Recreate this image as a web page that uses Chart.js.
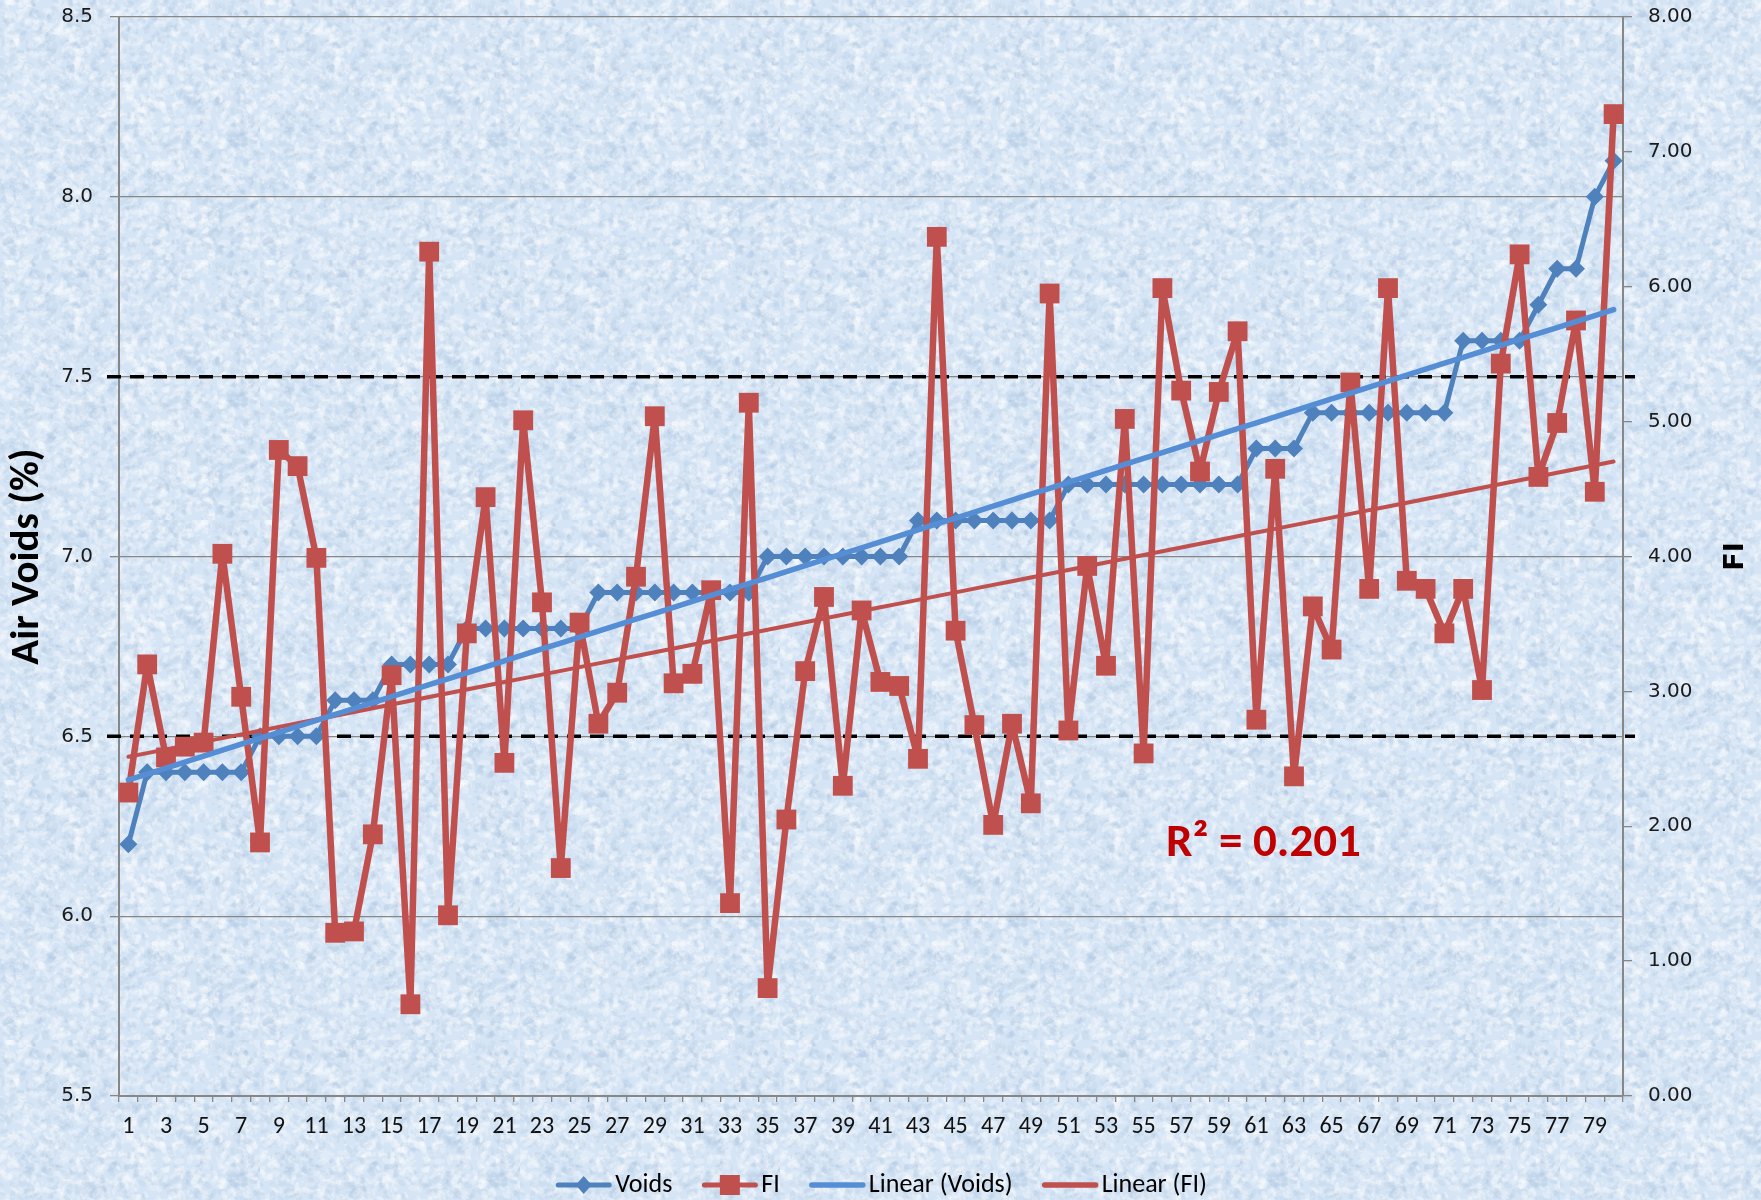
<!DOCTYPE html>
<html lang="en">
<head>
<meta charset="UTF-8">
<title>Air Voids and FI</title>
<script src="https://cdn.jsdelivr.net/npm/chart.js"></script>
<style>
    html, body { margin: 0; padding: 0; background: #d8e7f6; }
    #wrap { width: 1761px; height: 1200px; }
</style>
</head>
<body>
<div id="wrap"><canvas id="chart" width="1761" height="1200"></canvas></div>
<script>
    // Sample numbers along the x axis
    const samples = ['1','2','3','4','5','6','7','8','9','10','11','12','13','14','15','16','17','18','19','20',
        '21','22','23','24','25','26','27','28','29','30','31','32','33','34','35','36','37','38','39','40',
        '41','42','43','44','45','46','47','48','49','50','51','52','53','54','55','56','57','58','59','60',
        '61','62','63','64','65','66','67','68','69','70','71','72','73','74','75','76','77','78','79','80'];

    // Air voids (%) - left axis
    const voids = [6.2, 6.4, 6.4, 6.4, 6.4, 6.4, 6.4, 6.5, 6.5, 6.5,
        6.5, 6.6, 6.6, 6.6, 6.7, 6.7, 6.7, 6.7, 6.8, 6.8,
        6.8, 6.8, 6.8, 6.8, 6.8, 6.9, 6.9, 6.9, 6.9, 6.9,
        6.9, 6.9, 6.9, 6.9, 7.0, 7.0, 7.0, 7.0, 7.0, 7.0,
        7.0, 7.0, 7.1, 7.1, 7.1, 7.1, 7.1, 7.1, 7.1, 7.1,
        7.2, 7.2, 7.2, 7.2, 7.2, 7.2, 7.2, 7.2, 7.2, 7.2,
        7.3, 7.3, 7.3, 7.4, 7.4, 7.4, 7.4, 7.4, 7.4, 7.4,
        7.4, 7.6, 7.6, 7.6, 7.6, 7.7, 7.8, 7.8, 8.0, 8.1];

    // Flexibility index - right axis
    const fi = [2.25, 3.20, 2.51, 2.59, 2.62, 4.02, 2.96, 1.88, 4.79, 4.67,
        3.99, 1.21, 1.22, 1.94, 3.12, 0.68, 6.26, 1.34, 3.43, 4.44,
        2.47, 5.01, 3.66, 1.69, 3.51, 2.76, 2.99, 3.85, 5.04, 3.06,
        3.13, 3.75, 1.43, 5.14, 0.80, 2.05, 3.15, 3.70, 2.30, 3.60,
        3.07, 3.04, 2.50, 6.37, 3.45, 2.75, 2.01, 2.76, 2.17, 5.95,
        2.71, 3.93, 3.19, 5.02, 2.54, 5.99, 5.23, 4.63, 5.22, 5.67,
        2.79, 4.65, 2.37, 3.63, 3.31, 5.29, 3.76, 5.99, 3.82, 3.76,
        3.43, 3.76, 3.01, 5.43, 6.24, 4.59, 4.99, 5.75, 4.48, 7.28];

    const voidsAxis = [5.5, 8.5, 0.5];   // min, max, step
    const fiAxis = [0, 8, 1];
    const limitLines = [6.5, 7.5];       // air void spec band
    const r2Text = 'R² = 0.201';

    const BLUE = '#4F81BD';
    const RED = '#C0504D';
    const TREND_BLUE = '#558ED5';
    const GRID = '#878787';
    const CALIBRI = 'Carlito, Calibri, Lato, sans-serif';

    // least squares line over sample index
    function linearFit(values) {
        const n = values.length;
        let sx = 0, sy = 0, sxx = 0, sxy = 0;
        values.forEach((y, i) => {
            const x = i + 1;
            sx += x; sy += y; sxx += x * x; sxy += x * y;
        });
        const slope = (n * sxy - sx * sy) / (n * sxx - sx * sx);
        const icpt = (sy - slope * sx) / n;
        return values.map((_, i) => icpt + slope * (i + 1));
    }

    // speckled light blue backdrop
    function makeTexture() {
        const c = document.createElement('canvas');
        c.width = 260; c.height = 260;
        const g = c.getContext('2d');
        g.fillStyle = '#d5e5f5';
        g.fillRect(0, 0, 260, 260);
        let seed = 12345;
        const rnd = () => (seed = (seed * 16807) % 2147483647) / 2147483647;
        for (let i = 0; i < 3200; i++) {
            const x = rnd() * 260, y = rnd() * 260, r = 0.8 + rnd() * 2.6;
            g.fillStyle = rnd() < 0.6 ? 'rgba(255,255,255,0.26)' : 'rgba(155,184,218,0.15)';
            g.beginPath();
            g.ellipse(x, y, r * 1.9, r, rnd() * Math.PI, 0, Math.PI * 2);
            g.fill();
        }
        return c;
    }

    const backdrop = {
        id: 'backdrop',
        beforeDraw(chart) {
            const ctx = chart.ctx;
            ctx.save();
            ctx.fillStyle = ctx.createPattern(makeTexture(), 'repeat');
            ctx.fillRect(0, 0, chart.width, chart.height);
            ctx.restore();
        }
    };

    const limitLinesPlugin = {
        id: 'limitLines',
        beforeDatasetsDraw(chart) {
            const {ctx, chartArea, scales} = chart;
            ctx.save();
            ctx.strokeStyle = '#000';
            ctx.lineWidth = 3.5;
            ctx.setLineDash([14, 9]);
            limitLines.forEach(v => {
                const py = scales.y.getPixelForValue(v);
                ctx.beginPath();
                ctx.moveTo(chartArea.left - 12, py);
                ctx.lineTo(chartArea.right + 12, py);
                ctx.stroke();
            });
            ctx.restore();
        }
    };

    function drawMarker(ctx, kind, x, y, color) {
        ctx.fillStyle = color;
        ctx.beginPath();
        if (kind === 'diamond') {
            ctx.moveTo(x, y - 9); ctx.lineTo(x + 8, y); ctx.lineTo(x, y + 9); ctx.lineTo(x - 8, y);
            ctx.closePath();
        } else if (kind === 'square') {
            ctx.rect(x - 10, y - 10, 20, 20);
        }
        ctx.fill();
    }

    const textBits = {
        id: 'textBits',
        afterDraw(chart) {
            const {ctx, chartArea} = chart;
            const midY = (chartArea.top + chartArea.bottom) / 2;
            ctx.save();
            ctx.fillStyle = '#000';
            ctx.textAlign = 'center';
            ctx.textBaseline = 'middle';

            // axis titles
            ctx.save();
            ctx.translate(28, midY);
            ctx.rotate(-Math.PI / 2);
            ctx.font = 'bold 41px ' + CALIBRI;
            ctx.fillText('Air Voids (%)', 0, 0);
            ctx.restore();

            ctx.save();
            ctx.translate(1736, midY);
            ctx.rotate(-Math.PI / 2);
            ctx.font = 'bold 27px "DejaVu Sans"';
            ctx.fillText('FI', 0, 0);
            ctx.restore();

            // R squared note
            ctx.font = 'bold 47px ' + CALIBRI;
            ctx.fillStyle = '#C00000';
            ctx.textAlign = 'left';
            ctx.fillText(r2Text, 1166, 844);

            // legend
            const items = [
                {label: 'Voids', color: BLUE, marker: 'diamond', width: 5},
                {label: 'FI', color: RED, marker: 'square', width: 5},
                {label: 'Linear (Voids)', color: TREND_BLUE, marker: null, width: 5.5},
                {label: 'Linear (FI)', color: RED, marker: null, width: 5.5}
            ];
            ctx.font = '26px ' + CALIBRI;
            const sample = 57, gapText = 3, gapItem = 29;
            let total = 0;
            items.forEach(it => { it.tw = ctx.measureText(it.label).width; total += sample + gapText + it.tw; });
            total += gapItem * (items.length - 1);
            let x = 881 - total / 2;
            const ly = 1185;
            items.forEach(it => {
                ctx.strokeStyle = it.color;
                ctx.lineWidth = it.width;
                ctx.lineCap = 'round';
                ctx.beginPath();
                ctx.moveTo(x + 3, ly);
                ctx.lineTo(x + sample - 3, ly);
                ctx.stroke();
                if (it.marker) drawMarker(ctx, it.marker, x + sample / 2, ly, it.color);
                ctx.fillStyle = '#000';
                ctx.fillText(it.label, x + sample + gapText, ly);
                x += sample + gapText + it.tw + gapItem;
            });
            ctx.restore();
        }
    };

    // keep the plot frame fixed: no extra room reserved for end labels
    function fixWidth(w) {
        return s => { s.width = w; s.paddingTop = 0; s.paddingBottom = 0; };
    }

    const ctx = document.getElementById('chart').getContext('2d');
    new Chart(ctx, {
        type: 'line',
        data: {
            labels: samples,
            datasets: [
                {
                    label: 'Linear (Voids)',
                    data: linearFit(voids),
                    yAxisID: 'y',
                    borderColor: TREND_BLUE,
                    borderWidth: 5.5,
                    borderCapStyle: 'round',
                    pointRadius: 0,
                    order: 0
                },
                {
                    label: 'Linear (FI)',
                    data: linearFit(fi),
                    yAxisID: 'y2',
                    borderColor: RED,
                    borderWidth: 4,
                    borderCapStyle: 'round',
                    pointRadius: 0,
                    order: 1
                },
                {
                    label: 'FI',
                    data: fi,
                    yAxisID: 'y2',
                    borderColor: RED,
                    backgroundColor: RED,
                    borderWidth: 6.5,
                    borderJoinStyle: 'round',
                    pointStyle: 'rect',
                    pointRadius: 14,
                    pointBorderWidth: 0,
                    order: 2
                },
                {
                    label: 'Voids',
                    data: voids,
                    yAxisID: 'y',
                    borderColor: BLUE,
                    backgroundColor: BLUE,
                    borderWidth: 5,
                    borderJoinStyle: 'round',
                    pointStyle: 'rectRot',
                    pointRadius: 9,
                    pointBorderWidth: 0,
                    order: 3
                }
            ]
        },
        options: {
            responsive: false,
            animation: false,
            devicePixelRatio: 1,
            layout: { padding: { top: 17, left: 0, right: 0, bottom: 0 } },
            plugins: {
                legend: { display: false },
                tooltip: { enabled: false }
            },
            elements: { line: { tension: 0 } },
            scales: {
                x: {
                    offset: true,
                    grid: {
                        offset: true,
                        drawOnChartArea: false,
                        tickLength: 6,
                        color: GRID,
                        lineWidth: 1.3
                    },
                    border: { color: GRID, width: 2 },
                    ticks: {
                        autoSkip: false,
                        maxRotation: 0,
                        padding: 11,
                        color: '#111',
                        font: { family: CALIBRI, size: 24 },
                        callback: (v, i) => (i % 2 === 0 ? samples[i] : '')
                    },
                    afterFit: s => { s.height = 104; }
                },
                y: {
                    position: 'left',
                    min: voidsAxis[0],
                    max: voidsAxis[1],
                    grid: { color: GRID, lineWidth: 1.3, tickLength: 9 },
                    border: { color: GRID, width: 2 },
                    ticks: {
                        stepSize: voidsAxis[2],
                        padding: 17,
                        color: '#1a1a1a',
                        font: { family: 'DejaVu Sans', size: 20 },
                        callback: v => v.toFixed(1)
                    },
                    afterFit: fixWidth(119)
                },
                y2: {
                    position: 'right',
                    min: fiAxis[0],
                    max: fiAxis[1],
                    grid: { drawOnChartArea: false, color: GRID, lineWidth: 1.3, tickLength: 9 },
                    border: { color: GRID, width: 2 },
                    ticks: {
                        stepSize: fiAxis[2],
                        padding: 16,
                        color: '#1a1a1a',
                        font: { family: 'DejaVu Sans', size: 20 },
                        callback: v => v.toFixed(2)
                    },
                    afterFit: fixWidth(138)
                }
            }
        },
        plugins: [backdrop, limitLinesPlugin, textBits]
    });
</script>
</body>
</html>
